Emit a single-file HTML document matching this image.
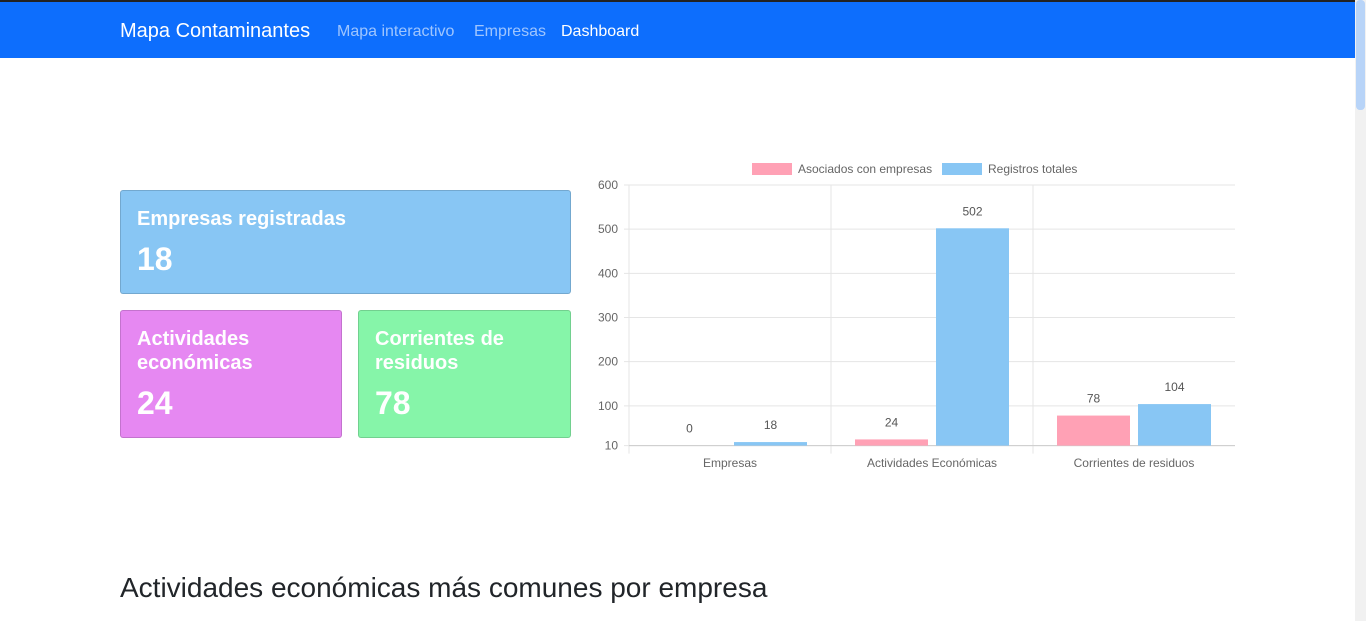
<!DOCTYPE html>
<html><head><meta charset="utf-8">
<style>
*{box-sizing:border-box;margin:0;padding:0}
body{width:1366px;height:621px;overflow:hidden;background:#fff;font-family:"Liberation Sans",sans-serif;position:relative}
.nav{position:absolute;left:0;top:0;width:1355px;height:58px;background:#0d6efd;border-top:2px solid #222}
.brand{position:absolute;left:120px;top:18px;color:#fff;font-size:20px}
.link{position:absolute;top:21px;font-size:16px;color:rgba(255,255,255,.6)}
.card{position:absolute;border:1px solid rgba(0,0,0,.15);border-radius:3px;color:#fff;padding:16px 16px 14px}
.card h5{font-size:20px;line-height:24px;font-weight:600}
.card .n{font-size:32px;font-weight:600;margin-top:10px}
.sb{position:absolute;right:0;top:0;width:11px;height:621px;background:#f1f1f1}
.sb div{position:absolute;left:1px;top:0;width:9px;height:110px;background:#b8d4f8;border-radius:4px}
h2{position:absolute;left:120px;top:572px;font-size:28px;font-weight:500;color:#212529}
</style></head><body>
<div class="nav">
<span class="brand">Mapa Contaminantes</span>
<span class="link" style="left:337px">Mapa interactivo</span>
<span class="link" style="left:474px">Empresas</span>
<span class="link" style="left:561px;color:#fff">Dashboard</span>
</div>
<div class="sb"><div></div></div>
<div class="card" style="left:120px;top:190px;width:451px;height:104px;background:#88c6f4"><h5>Empresas registradas</h5><div class="n">18</div></div>
<div class="card" style="left:120px;top:310px;width:222px;height:128px;background:#e688f2"><h5>Actividades económicas</h5><div class="n">24</div></div>
<div class="card" style="left:358px;top:310px;width:213px;height:128px;background:#86f5a9"><h5>Corrientes de residuos</h5><div class="n">78</div></div>
<svg id="chart" style="position:absolute;left:0;top:0" width="1366" height="621"></svg>
<h2>Actividades económicas más comunes por empresa</h2>
<script>
const categories=["Empresas","Actividades Económicas","Corrientes de residuos"];
const asociados=[0,24,78];
const totales=[18,502,104];
const ticks=[10,100,200,300,400,500,600];
const svg=document.getElementById('chart');const NS="http://www.w3.org/2000/svg";
const X0=629,X1=1235,Y0=445.6,Ytop=185,MIN=10,MAX=600;
const y=v=>Y0-(v-MIN)/(MAX-MIN)*(Y0-Ytop);
const cw=(X1-X0)/categories.length;
function mk(t,a,txt){const e=document.createElementNS(NS,t);for(const k in a)e.setAttribute(k,a[k]);if(txt!==undefined)e.textContent=txt;svg.appendChild(e);return e;}
ticks.forEach(t=>{const l=mk('line',{x1:X0-5,x2:X1,y1:y(t),y2:y(t),stroke:'#e5e5e5'});

const tx=mk('text',{x:618,y:y(t)+4,'text-anchor':'end','font-size':12,fill:'#666'},t);
});
for(let i=0;i<categories.length;i++){const l=mk('line',{x1:X0+i*cw,x2:X0+i*cw,y1:Ytop,y2:Y0+8,stroke:'#e5e5e5'});
}
mk('line',{x1:X0,x2:X1,y1:Y0,y2:Y0,stroke:'#ccc'});
const bw=73;
categories.forEach((c,i)=>{const cx=X0+i*cw+cw/2;
const t=mk('text',{x:cx,y:467,'text-anchor':'middle','font-size':12,fill:'#666'},c);

[[asociados,'#ffa1b5',-bw-4],[totales,'#88c6f4',4]].forEach(([arr,col,off])=>{const v=arr[i];
if(v>MIN){const r=mk('rect',{x:cx+off,y:y(v),width:bw,height:Y0-y(v),fill:col});
}
const l=mk('text',{x:cx+off+bw/2,y:y(Math.max(v,MIN))-13,'text-anchor':'middle','font-size':12,fill:'#555'},v);
});});
[['#ffa1b5',752,'Asociados con empresas'],['#88c6f4',942,'Registros totales']].forEach(([c,x,s])=>{
const r=mk('rect',{x:x,y:163,width:40,height:12,fill:c});
const t=mk('text',{x:x+46,y:173,'font-size':12,fill:'#666'},s);});
</script>
</body></html>
